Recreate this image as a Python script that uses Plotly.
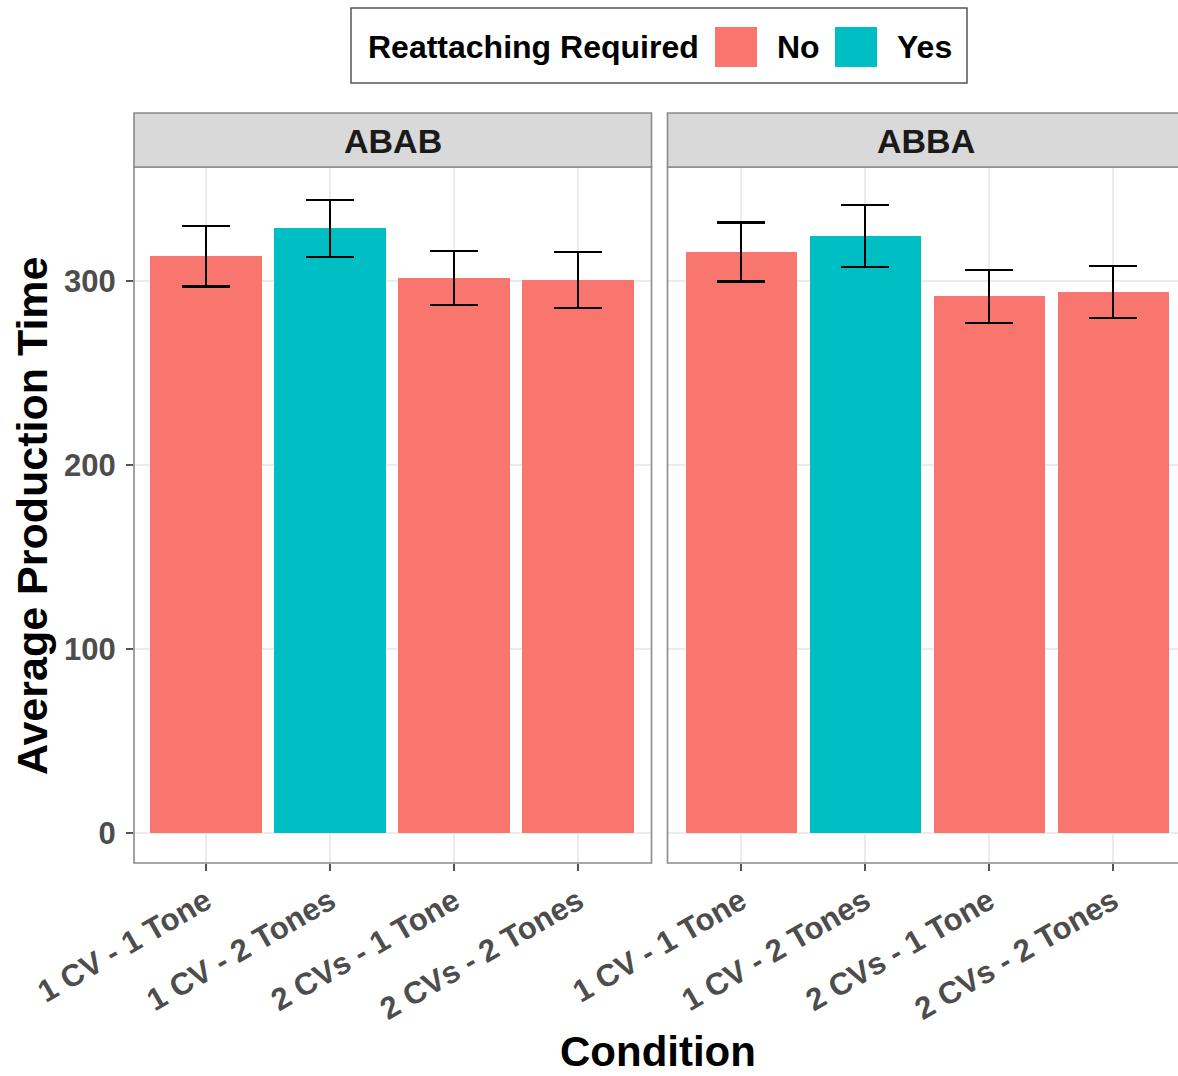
import plotly.graph_objects as go

# Data: average production time per condition, faceted by pattern
conditions = ["1 CV - 1 Tone", "1 CV - 2 Tones", "2 CVs - 1 Tone", "2 CVs - 2 Tones"]
panels = ["ABAB", "ABBA"]
reattach = ["No", "Yes", "No", "No"]
mean_abab = [313.5, 328.7, 301.8, 300.6]
se_abab = [16.4, 15.5, 14.6, 15.2]
mean_abba = [315.8, 324.5, 291.7, 294.1]
se_abba = [16.0, 16.8, 14.3, 14.2]
legend_levels = ["No", "Yes"]
y_ticks = [0, 100, 200, 300]

colors = {"No": "#F8766D", "Yes": "#00BFC4"}

W, H = 1178, 1076


def px_x(v):
    return v / W


def px_y(v):
    return 1 - v / H


FONT = "Liberation Sans, Arial, sans-serif"

fig = go.Figure()

series = [(mean_abab, se_abab, "x", "y"), (mean_abba, se_abba, "x2", "y2")]
for means, ses, xa, ya in series:
    fig.add_trace(go.Bar(
        x=conditions, y=means, width=0.9,
        marker=dict(color=[colors[r] for r in reattach], line=dict(width=0)),
        error_y=dict(type="data", array=ses, visible=True, color="black",
                     thickness=2.2, width=24),
        xaxis=xa, yaxis=ya, showlegend=False, hoverinfo="x+y",
    ))

ydom = [px_y(863), px_y(167)]
yrange = [-16.1, 362.0]
grid = "#ebebeb"
tickfont = dict(family=FONT, size=31, color="#4d4d4d", weight="bold")

common_x = dict(
    type="category", categoryorder="array", categoryarray=conditions,
    showgrid=True, gridcolor=grid, gridwidth=1.5, zeroline=False,
    ticks="outside", ticklen=7, tickwidth=1.5, tickcolor="#555555",
    tickangle=-30, tickfont=tickfont, showline=False, automargin=False,
)
common_y = dict(
    range=yrange, domain=ydom, showgrid=True, gridcolor=grid, gridwidth=1.5,
    zeroline=False, tickvals=y_ticks, showline=False, automargin=False,
)

fig.update_layout(
    width=W, height=H,
    margin=dict(l=0, r=0, t=0, b=0, autoexpand=False),
    paper_bgcolor="white", plot_bgcolor="white",
    bargap=0,
    xaxis=dict(common_x, domain=[px_x(134), px_x(651.5)], range=[-0.58, 3.59], anchor="y"),
    xaxis2=dict(common_x, domain=[px_x(667.5), 1.0], range=[-0.593, 3.524], anchor="y2"),
    yaxis=dict(common_y, anchor="x", ticks="outside", ticklen=7, tickwidth=1.5,
               tickcolor="#555555", tickfont=tickfont, ticklabelstandoff=4),
    yaxis2=dict(common_y, anchor="x2", matches="y", showticklabels=False, ticks=""),
)

shapes = []
annotations = []
border = dict(color="#8a8a8a", width=1.6)

# Panel borders and facet strips
panel_px = [(134, 651.5, 392.75), (667.5, 1184, 926)]
for i, (x0, x1, xc) in enumerate(panel_px):
    shapes.append(dict(type="rect", xref="paper", yref="paper",
                       x0=px_x(x0), x1=px_x(x1), y0=px_y(863), y1=px_y(167),
                       line=border, fillcolor="rgba(0,0,0,0)", layer="above"))
    shapes.append(dict(type="rect", xref="paper", yref="paper",
                       x0=px_x(x0), x1=px_x(x1), y0=px_y(167), y1=px_y(113),
                       line=border, fillcolor="#d9d9d9", layer="above"))
    annotations.append(dict(text=panels[i], xref="paper", yref="paper",
                            x=px_x(xc), y=px_y(141), showarrow=False,
                            xanchor="center", yanchor="middle",
                            font=dict(family=FONT, size=34, color="#1a1a1a", weight="bold")))

# Axis titles
annotations.append(dict(text="Average Production Time", xref="paper", yref="paper",
                        x=px_x(32), y=px_y(516), textangle=-90, showarrow=False,
                        xanchor="center", yanchor="middle",
                        font=dict(family=FONT, size=43, color="black", weight="bold")))
annotations.append(dict(text="Condition", xref="paper", yref="paper",
                        x=px_x(658), y=0, showarrow=False,
                        xanchor="center", yanchor="bottom", borderpad=0,
                        font=dict(family=FONT, size=42, color="black", weight="bold")))

# Legend box
shapes.append(dict(type="rect", xref="paper", yref="paper",
                   x0=px_x(351), x1=px_x(967), y0=px_y(83), y1=px_y(8),
                   line=dict(color="#555555", width=1.5), fillcolor="white"))
legfont = dict(family=FONT, size=32, color="black", weight="bold")
annotations.append(dict(text="Reattaching Required", xref="paper", yref="paper",
                        x=px_x(366), y=px_y(47), showarrow=False,
                        xanchor="left", yanchor="middle", font=legfont))
key_px = [(715, 775), (835, 895)]
for lvl, (kx, tx) in zip(legend_levels, key_px):
    shapes.append(dict(type="rect", xref="paper", yref="paper",
                       x0=px_x(kx), x1=px_x(kx + 42), y0=px_y(67), y1=px_y(27),
                       line=dict(width=0), fillcolor=colors[lvl]))
    annotations.append(dict(text=lvl, xref="paper", yref="paper",
                            x=px_x(tx), y=px_y(47), showarrow=False,
                            xanchor="left", yanchor="middle", font=legfont))

fig.update_layout(shapes=shapes, annotations=annotations)

fig.write_html("out.html")
